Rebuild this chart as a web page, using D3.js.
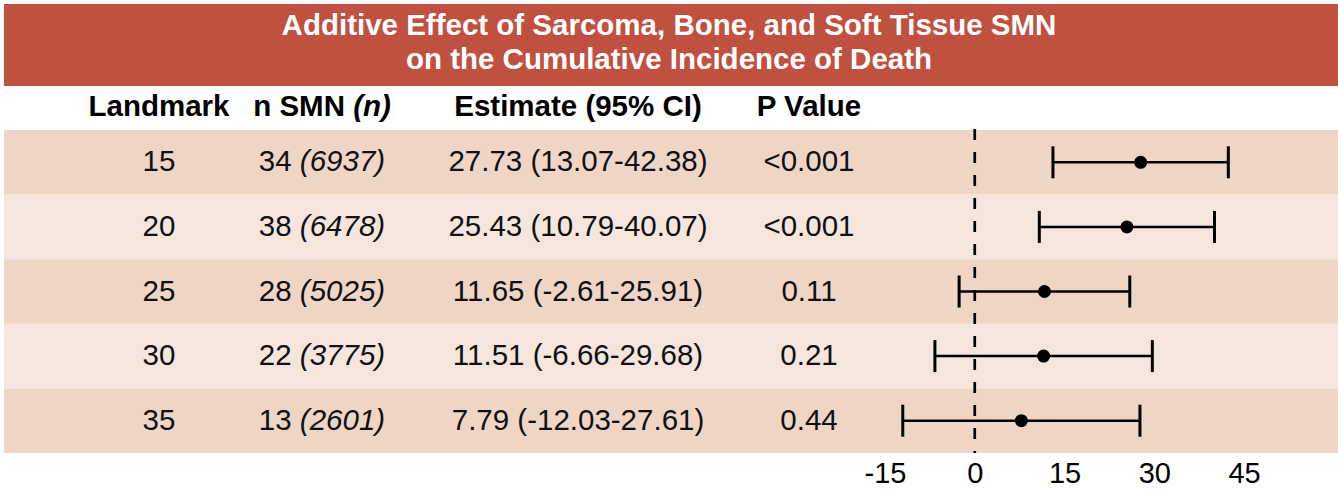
<!DOCTYPE html>
<html><head><meta charset="utf-8">
<script src="https://cdn.jsdelivr.net/npm/d3@7"></script>
<style>
html,body{margin:0;padding:0;background:#fff;}
svg{display:block;font-family:"Liberation Sans",Arial,sans-serif;}
</style></head>
<body>
<svg id="chart" width="1338" height="490"></svg>
<script>
const titleLines = ["Additive Effect of Sarcoma, Bone, and Soft Tissue SMN", "on the Cumulative Incidence of Death"];
const landmarks = ["15", "20", "25", "30", "35"];
const nSMN = [34, 38, 28, 22, 13];
const nTotal = [6937, 6478, 5025, 3775, 2601];
const estimates = [27.73, 25.43, 11.65, 11.51, 7.79];
const lower = [13.07, 10.79, -2.61, -6.66, -12.03];
const upper = [42.38, 40.07, 25.91, 29.68, 27.61];
const pValues = ["<0.001", "<0.001", "0.11", "0.21", "0.44"];
const xTicks = [-15, 0, 15, 30, 45];

const W = 1338, H = 490;
const svg = d3.select("#chart");
const fs = 29.5;

// title band
svg.append("rect").attr("x", 4).attr("y", 4).attr("width", W - 4).attr("height", 82).attr("fill", "#c05040");
svg.selectAll("text.title").data(titleLines).join("text")
  .attr("class", "title")
  .attr("x", W / 2).attr("y", (d, i) => 35 + i * 34)
  .attr("text-anchor", "middle").attr("fill", "#fff")
  .attr("font-weight", "bold").attr("font-size", fs)
  .text(d => d);

// rows
const y = d3.scaleBand().domain(landmarks).range([130, 453]).padding(0);
const x = d3.scaleLinear().domain([-15, 45]).range([885, 1244]);

svg.selectAll("rect.row").data(landmarks).join("rect")
  .attr("class", "row")
  .attr("x", 4).attr("y", d => y(d)).attr("width", W - 4).attr("height", y.bandwidth())
  .attr("fill", (d, i) => i % 2 === 0 ? "#efd5c6" : "#f5e6dd");

// columns
const cols = [159, 322, 578, 809];
const headers = svg.append("g").attr("font-weight", "bold").attr("font-size", fs).attr("text-anchor", "middle").attr("fill", "#000");
headers.append("text").attr("x", cols[0]).attr("y", 116).text("Landmark");
const h2 = headers.append("text").attr("x", cols[1]).attr("y", 116);
h2.append("tspan").text("n SMN ");
h2.append("tspan").attr("font-style", "italic").text("(n)");
headers.append("text").attr("x", cols[2]).attr("y", 116).text("Estimate (95% CI)");
headers.append("text").attr("x", cols[3]).attr("y", 116).text("P Value");

const rowsG = svg.append("g").attr("font-size", fs).attr("text-anchor", "middle").attr("fill", "#111");
landmarks.forEach((lm, i) => {
  const by = y(lm) + y.bandwidth() / 2 + 9;
  rowsG.append("text").attr("x", cols[0]).attr("y", by).text(lm);
  const t = rowsG.append("text").attr("x", cols[1]).attr("y", by);
  t.append("tspan").text(nSMN[i] + " ");
  t.append("tspan").attr("font-style", "italic").text("(" + nTotal[i] + ")");
  rowsG.append("text").attr("x", cols[2]).attr("y", by)
    .text(estimates[i].toFixed(2) + " (" + lower[i].toFixed(2) + "-" + upper[i].toFixed(2) + ")");
  rowsG.append("text").attr("x", cols[3]).attr("y", by).text(pValues[i]);
});

// reference line
svg.append("line").attr("x1", x(0)).attr("x2", x(0)).attr("y1", 129).attr("y2", 453)
  .attr("stroke", "#000").attr("stroke-width", 2.7).attr("stroke-dasharray", "11,12");

// forest marks
const fg = svg.append("g");
landmarks.forEach((lm, i) => {
  const cy = y(lm) + y.bandwidth() / 2;
  fg.append("line").attr("x1", x(lower[i])).attr("x2", x(upper[i])).attr("y1", cy).attr("y2", cy)
    .attr("stroke", "#000").attr("stroke-width", 2.5);
  [lower[i], upper[i]].forEach(v => {
    fg.append("line").attr("x1", x(v)).attr("x2", x(v)).attr("y1", cy - 16).attr("y2", cy + 16)
      .attr("stroke", "#000").attr("stroke-width", 3);
  });
  fg.append("circle").attr("cx", x(estimates[i])).attr("cy", cy).attr("r", 6.5).attr("fill", "#000");
});

// axis
const axis = d3.axisBottom(x).tickValues(xTicks).tickSize(0).tickPadding(0).tickFormat(d => String(d));
const ag = svg.append("g").attr("transform", "translate(0,462)").call(axis);
ag.select(".domain").remove();
ag.selectAll("text").attr("font-size", 29).attr("fill", "#000")
  .attr("font-family", "Liberation Sans, Arial, sans-serif").attr("dy", "0.72em");
</script>
</body></html>
